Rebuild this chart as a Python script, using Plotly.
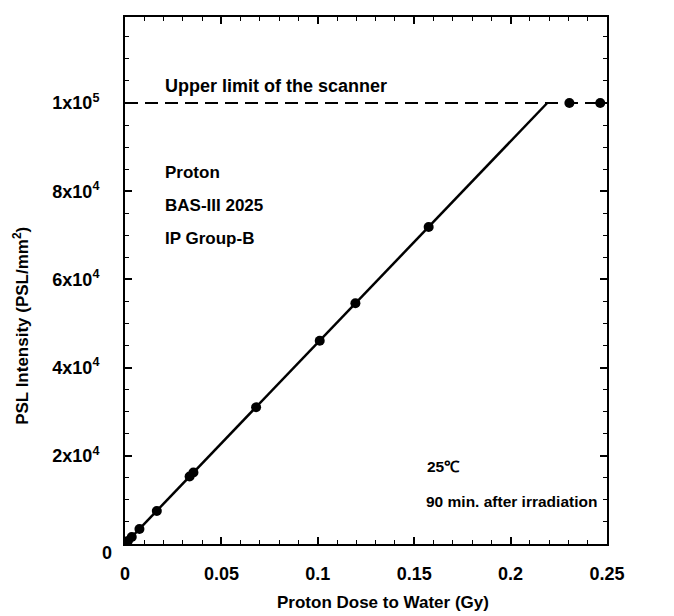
import plotly.graph_objects as go

# Measured points (dose in Gy, PSL intensity in PSL/mm^2)
dose = [0.0015, 0.0035, 0.0075, 0.0165, 0.0335, 0.0355, 0.068, 0.101, 0.1195, 0.1575, 0.2305, 0.2465]
psl = [700, 1600, 3400, 7500, 15300, 16200, 31000, 46100, 54600, 71900, 100000, 100000]

# Linear fit line (up to the scanner limit)
fit_dose = [0.0, 0.219]
fit_psl = [0, 100000]

# Scanner upper limit
limit_dose = [0.0, 0.25]
limit_psl = [100000, 100000]

x_tickvals = [0, 0.05, 0.1, 0.15, 0.2, 0.25]
x_ticktext = ["0", "0.05", "0.1", "0.15", "0.2", "0.25"]
y_tickvals = [0, 20000, 40000, 60000, 80000, 100000]
y_ticktext = ["", "2x10<sup>4</sup>", "4x10<sup>4</sup>", "6x10<sup>4</sup>",
              "8x10<sup>4</sup>", "1x10<sup>5</sup>"]

FONT = "Liberation Sans, Arial, sans-serif"

fig = go.Figure()
fig.add_trace(go.Scatter(x=limit_dose, y=limit_psl, mode="lines",
                         line=dict(color="black", width=2, dash="13px,7px"),
                         hoverinfo="skip", showlegend=False))
fig.add_trace(go.Scatter(x=fit_dose, y=fit_psl, mode="lines",
                         line=dict(color="black", width=2.5),
                         showlegend=False))
fig.add_trace(go.Scatter(x=dose, y=psl, mode="markers",
                         marker=dict(color="black", size=10),
                         showlegend=False))

axis_common = dict(
    showgrid=False, zeroline=False, showline=True, linecolor="black", linewidth=2,
    mirror="ticks", ticks="inside", ticklen=7, tickwidth=1.5, tickcolor="black",
    tickfont=dict(family=FONT, size=18, color="black", weight="bold"),
)

fig.update_xaxes(range=[0, 0.25], tickvals=x_tickvals, ticktext=x_ticktext,
                 minor=dict(dtick=0.01, ticks="inside", ticklen=4, tickwidth=1.2,
                            tickcolor="black", tick0=0),
                 ticklabelstandoff=12,
                 **axis_common)
fig.update_yaxes(range=[0, 119500], tickvals=y_tickvals, ticktext=y_ticktext,
                 minor=dict(dtick=5000, ticks="inside", ticklen=4, tickwidth=1.2,
                            tickcolor="black", tick0=0),
                 ticklabelstandoff=20,
                 **axis_common)

# page-pixel -> paper helpers (plot area spans x 125..607, y 15..544 on the page)
def px(xp):
    return (xp - 125) / 482.0

def py(yp):
    return (544 - yp) / 529.0

tfont = dict(family=FONT, size=17, color="black", weight="bold")
sfont = dict(family=FONT, size=15.5, color="black", weight="bold")
annots = [
    dict(text="Upper limit of the scanner", x=px(163), y=py(84), xanchor="left", yanchor="middle",
         font=dict(family=FONT, size=18, color="black", weight="bold")),
    dict(text="Proton", x=px(163), y=py(171), xanchor="left", yanchor="middle"),
    dict(text="BAS-III 2025", x=px(163), y=py(204), xanchor="left", yanchor="middle"),
    dict(text="IP Group-B", x=px(163), y=py(237), xanchor="left", yanchor="middle"),
    dict(text="25℃", x=px(425), y=py(466), xanchor="left", yanchor="middle", font=sfont),
    dict(text="90 min. after irradiation", x=px(424), y=py(501), xanchor="left",
         yanchor="middle", font=sfont),
    dict(text="0", x=px(107), y=py(553), xanchor="center", yanchor="middle",
         font=dict(family=FONT, size=18, color="black", weight="bold")),
    dict(text="Proton Dose to Water (Gy)", x=px(383), y=py(603), xanchor="center", yanchor="middle"),
    dict(text="PSL Intensity (PSL/mm<sup>2</sup>)", x=px(21), y=py(325), xanchor="center",
         yanchor="middle", textangle=-90),
]
for a in annots:
    a.setdefault("font", tfont)
    a.update(xref="paper", yref="paper", showarrow=False)
fig.update_layout(annotations=annots)

# The page has an 8px body margin, so the figure is 8px smaller than the window.
fig.update_layout(
    width=666, height=608,
    margin=dict(l=117, r=67, t=7, b=72),
    plot_bgcolor="white", paper_bgcolor="white",
    showlegend=False,
)

fig.write_html("out.html")
